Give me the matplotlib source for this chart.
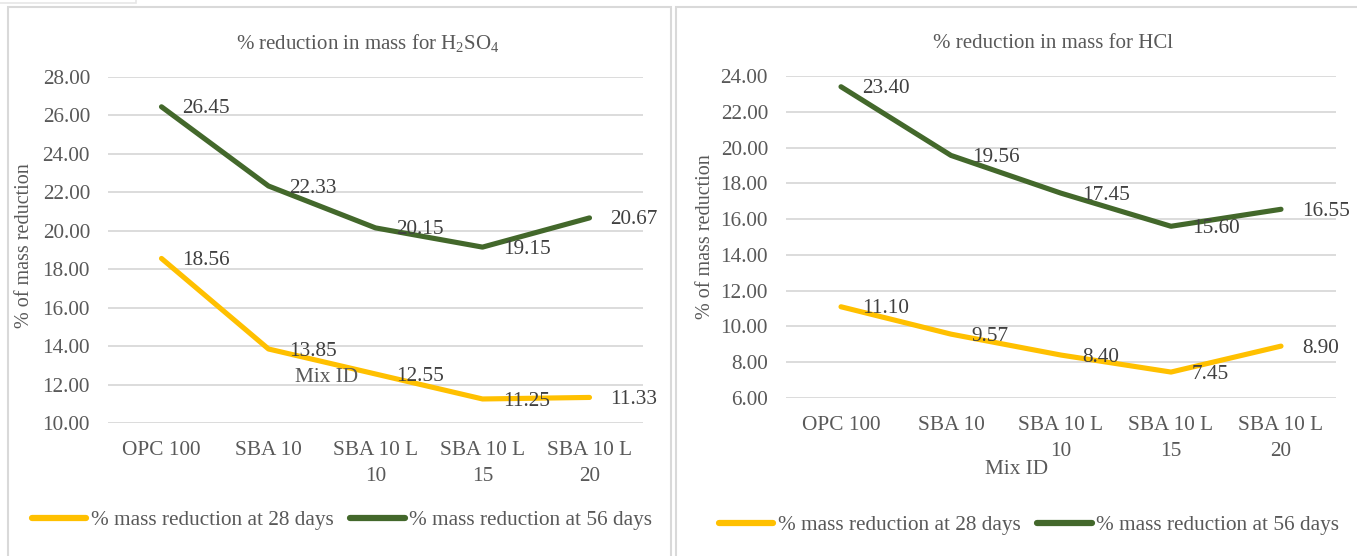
import matplotlib
matplotlib.use("Agg")
import matplotlib.pyplot as plt
from matplotlib.patches import Rectangle

plt.rcParams['font.family'] = ['Liberation Serif', 'DejaVu Serif']
plt.rcParams['mathtext.fontset'] = 'custom'
plt.rcParams['mathtext.rm'] = 'Liberation Serif'
plt.rcParams['mathtext.it'] = 'Liberation Serif:italic'
plt.rcParams['mathtext.bf'] = 'Liberation Serif:bold'

categories = ["OPC 100", "SBA 10", "SBA 10 L\n10", "SBA 10 L\n15", "SBA 10 L\n20"]
h2so4_28 = [18.56, 13.85, 12.55, 11.25, 11.33]
h2so4_56 = [26.45, 22.33, 20.15, 19.15, 20.67]
hcl_28 = [11.10, 9.57, 8.40, 7.45, 8.90]
hcl_56 = [23.40, 19.56, 17.45, 15.60, 16.55]
series_names = ["% mass reduction at 28 days", "% mass reduction at 56 days"]

YELLOW = "#FFC000"
GREEN = "#43682B"
TXT = "#595959"
LBL = "#404040"
GRID = "#D9D9D9"
FS = 15.3

W, H = 1357, 556
fig = plt.figure(figsize=(W / 100, H / 100), dpi=100)

def fx(px):
    return px / W

def fy(py):
    return 1 - py / H

# panel borders
fig.patches.append(Rectangle((fx(8), fy(560)), fx(671 - 8), fy(7) - fy(560),
                             transform=fig.transFigure, fill=False, edgecolor=GRID, lw=1.5))
fig.patches.append(Rectangle((fx(676), fy(560)), fx(1362 - 676), fy(7) - fy(560),
                             transform=fig.transFigure, fill=False, edgecolor=GRID, lw=1.5))
fig.patches.append(Rectangle((fx(-2), fy(3)), fx(138), fy(-5) - fy(3),
                             transform=fig.transFigure, fill=False, edgecolor="#E6E6E6", lw=1.2))

def make_panel(rect, s28, s56, ylim, title, title_y, ylabel_xy, mixid_xy, legend_xy):
    ax = fig.add_axes(rect)
    x = list(range(len(categories)))
    ax.plot(x, s28, color=YELLOW, lw=3.7, solid_capstyle='round', solid_joinstyle='round',
            label=series_names[0], zorder=3)
    ax.plot(x, s56, color=GREEN, lw=3.7, solid_capstyle='round', solid_joinstyle='round',
            label=series_names[1], zorder=3)
    for s in (s28, s56):
        for xi, v in zip(x, s):
            ax.annotate(f"{v:.2f}", (xi, v), xytext=(15, -1.5), textcoords='offset points',
                        ha='left', va='center', fontsize=FS, color=LBL, zorder=4,
                        annotation_clip=False)
    ax.set_xlim(-0.5, len(categories) - 0.5)
    ax.set_ylim(*ylim)
    ticks = list(range(int(ylim[0]), int(ylim[1]) + 1, 2))
    ax.set_yticks(ticks)
    ax.set_yticklabels([f"{t:.2f}" for t in ticks])
    ax.set_xticks(x)
    ax.set_xticklabels(categories, linespacing=1.5)
    ax.tick_params(axis='both', length=0, labelsize=FS, colors=TXT)
    ax.tick_params(axis='y', pad=13)
    ax.tick_params(axis='x', pad=13)
    for sp in ax.spines.values():
        sp.set_visible(False)
    ax.grid(axis='y', color=GRID, lw=1.3, zorder=0)
    ax.set_axisbelow(True)
    fig.text(ax.get_position().x0 + ax.get_position().width / 2 - fx(8), fy(title_y), title,
             ha='center', va='center', fontsize=15, color=TXT)
    fig.text(fx(ylabel_xy[0]), fy(ylabel_xy[1]), "% of mass reduction", rotation=90,
             ha='center', va='center', fontsize=14.5, color=TXT)
    fig.text(fx(mixid_xy[0]), fy(mixid_xy[1]), "Mix ID", ha='center', va='center',
             fontsize=FS, color=TXT)
    leg = fig.legend(handles=ax.get_lines(), labels=series_names, loc='center',
                     bbox_to_anchor=(fx(legend_xy[0]), fy(legend_xy[1])), ncol=2, frameon=False,
                     fontsize=FS, handlelength=2.55, handletextpad=0.2, columnspacing=0.8,
                     borderaxespad=0, borderpad=0)
    for t in leg.get_texts():
        t.set_color(TXT)
    for l in leg.get_lines():
        l.set_linewidth(4.5)
        l.set_solid_capstyle('round')
    return ax

make_panel([fx(108), fy(423), fx(643 - 108), fy(77) - fy(423)], h2so4_28, h2so4_56, (10, 28),
           "% reduction in mass for H$_2$SO$_4$", 43, (25, 246), (327, 377), (342, 520))
make_panel([fx(786), fy(398), fx(1336 - 786), fy(76) - fy(398)], hcl_28, hcl_56, (6, 24),
           "% reduction in mass for HCl", 43, (705, 237), (1017, 469), (1029, 525))

fig.savefig("out.png", dpi=100)
